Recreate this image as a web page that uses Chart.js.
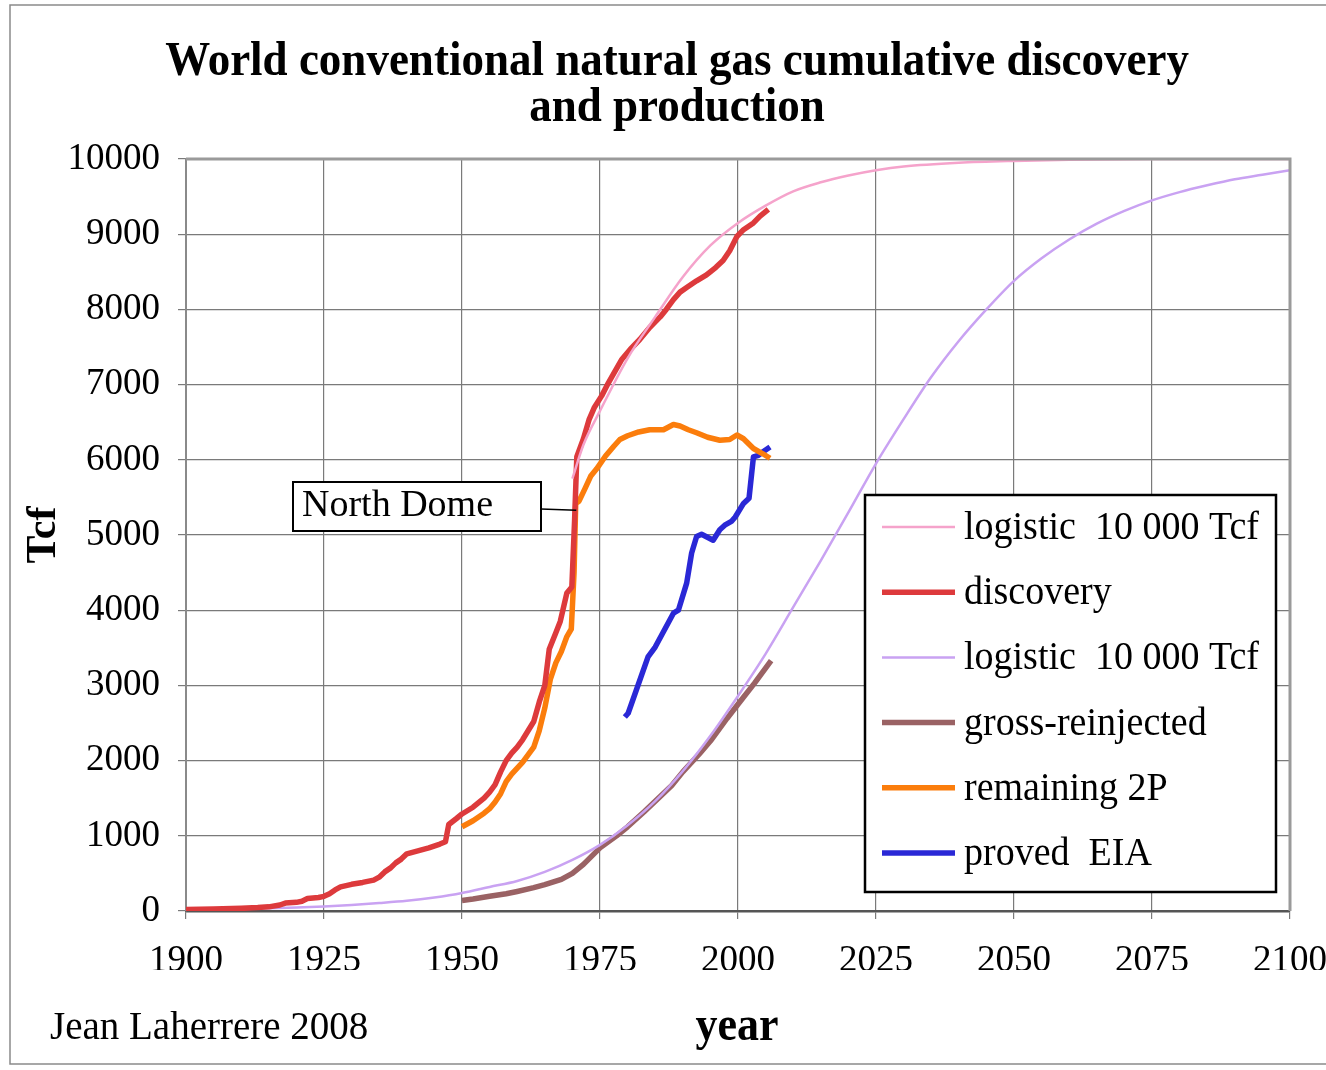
<!DOCTYPE html>
<html>
<head>
<meta charset="utf-8">
<title>World conventional natural gas cumulative discovery and production</title>
<script src="https://cdn.jsdelivr.net/npm/chart.js@4.4.1/dist/chart.umd.min.js"></script>
<style>
    html, body { margin: 0; padding: 0; background: #fff; }
    #wrap { width: 1326px; height: 1070px; }
</style>
</head>
<body>
<div id="wrap"><canvas id="gasChart" width="1326" height="1070"></canvas></div>
<script>
// Axis ticks
const yearTicks = [1900, 1925, 1950, 1975, 2000, 2025, 2050, 2075, 2100];
const tcfTicks = [0, 1000, 2000, 3000, 4000, 5000, 6000, 7000, 8000, 9000, 10000];

// logistic fit of discovery (pink)
const logDiscYears = [1970, 1972, 1975, 1980, 1985, 1990, 1995, 2000, 2005, 2010, 2015, 2020, 2025, 2030, 2040, 2050, 2060, 2075, 2100];
const logDiscTcf   = [5750, 6200, 6650, 7350, 7900, 8430, 8850, 9150, 9380, 9570, 9690, 9780, 9850, 9900, 9950, 9975, 9990, 10000, 10000];

// cumulative discovery (red)
const discYears = [1900, 1905, 1910, 1913, 1915, 1917, 1918, 1920, 1921, 1922, 1924, 1925, 1926, 1927, 1928, 1930,
    1932, 1934, 1935, 1936, 1937, 1938, 1939, 1940, 1942, 1944, 1946, 1947, 1947.6, 1949, 1950, 1952, 1954, 1955,
    1956, 1957, 1958, 1959, 1960, 1961, 1962, 1963, 1964, 1965, 1965.8, 1967, 1967.8, 1969, 1969.9, 1970.4, 1970.8,
    1972, 1973, 1974, 1975.3, 1976.5, 1977.5, 1978.9, 1980.5, 1982.2, 1984, 1985.9, 1987, 1988.3, 1989.5, 1990.7,
    1992.5, 1994.3, 1996, 1997.3, 1998.5, 1999.8, 2001, 2002.8, 2004, 2005.5];
const discTcf = [20, 25, 35, 45, 55, 80, 105, 115, 130, 165, 180, 195, 230, 280, 320, 355,
    380, 410, 450, 520, 570, 640, 690, 760, 800, 840, 890, 920, 1150, 1230, 1290, 1380, 1500, 1580,
    1680, 1850, 2000, 2100, 2180, 2280, 2400, 2520, 2780, 3000, 3480, 3700, 3850, 4230, 4310, 5200, 6040,
    6280, 6530, 6700, 6850, 7020, 7150, 7330, 7470, 7600, 7760, 7900, 8000, 8130, 8230, 8290,
    8380, 8460, 8560, 8650, 8780, 8970, 9060, 9150, 9240, 9330];

// logistic fit of production (lavender)
const logProdYears = [1900, 1905, 1910, 1915, 1920, 1925, 1930, 1935, 1940, 1945, 1950, 1955, 1960, 1965, 1970,
    1975, 1980, 1985, 1990, 1995, 2000, 2005, 2010, 2015, 2020, 2025, 2030, 2035, 2040, 2045, 2050, 2055, 2060,
    2065, 2070, 2075, 2080, 2085, 2090, 2095, 2100];
const logProdTcf = [15, 20, 28, 35, 45, 60, 80, 105, 135, 180, 240, 320, 400, 520, 680,
    880, 1140, 1460, 1860, 2330, 2860, 3420, 4040, 4660, 5300, 5950, 6540, 7100, 7580, 8000, 8380, 8680, 8930,
    9140, 9310, 9450, 9560, 9650, 9730, 9790, 9850];

// cumulative production gross minus reinjected (brown)
const grossYears = [1950, 1952, 1955, 1958, 1960, 1963, 1965, 1968, 1970, 1972, 1975, 1978, 1980, 1983, 1985,
    1988, 1990, 1993, 1995, 1998, 2000, 2003, 2006];
const grossTcf = [140, 160, 195, 230, 260, 310, 350, 420, 500, 620, 840, 1000, 1120, 1320, 1460,
    1670, 1850, 2090, 2260, 2560, 2750, 3030, 3330];

// remaining 2P reserves (orange)
const remainYears = [1950, 1952, 1954, 1955, 1956, 1957, 1958, 1959, 1960, 1961, 1962, 1963, 1964, 1965, 1966,
    1967, 1968, 1969, 1969.8, 1970.3, 1970.6, 1971.2, 1972.3, 1973.3, 1974.4, 1976, 1977.5, 1978.6, 1980, 1982,
    1984, 1986.5, 1988.3, 1989.5, 1991, 1992.5, 1994.5, 1996.7, 1998.5, 1999.8, 2001, 2002.8, 2004.5, 2005.8];
const remainTcf = [1120, 1200, 1300, 1360, 1450, 1560, 1720, 1820, 1900, 1980, 2080, 2180, 2400, 2700, 3080,
    3300, 3450, 3650, 3750, 4500, 5420, 5450, 5620, 5780, 5880, 6050, 6180, 6270, 6320, 6370,
    6400, 6400, 6470, 6450, 6400, 6360, 6300, 6260, 6270, 6330, 6280, 6150, 6080, 6020];

// proved reserves EIA (blue)
const provedYears = [1979.5, 1980.1, 1983.7, 1985, 1988.3, 1989.2, 1990.7, 1991.6, 1992.5, 1993.4, 1995.5, 1996.7,
    1997.6, 1998.8, 1999.5, 2001, 2002, 2002.8, 2003.7, 2004.6, 2005.8];
const provedTcf = [2580, 2630, 3380, 3510, 3960, 4000, 4360, 4760, 4980, 5010, 4930, 5070,
    5130, 5180, 5240, 5420, 5490, 6040, 6060, 6110, 6170];

// annotation anchor on the discovery jump
const northDomeYear = 1970.7;
const northDomeTcf = 5330;

const serif = '"Liberation Serif", "Times New Roman", serif';

function pairs(xs, ys) {
    return xs.map((x, i) => ({ x: x, y: ys[i] }));
}

function series(label, xs, ys, color, width, smooth) {
    return {
        label: label,
        data: pairs(xs, ys),
        borderColor: color,
        backgroundColor: color,
        borderWidth: width,
        pointRadius: 0,
        fill: false,
        tension: smooth ? 0.4 : 0,
        cubicInterpolationMode: smooth ? 'monotone' : 'default',
        borderCapStyle: 'butt',
        borderJoinStyle: 'round'
    };
}

// draw a text line with a slight vertical stretch like the original
function stretchText(ctx, text, x, y, font, align, sy) {
    ctx.save();
    ctx.font = font;
    ctx.textAlign = align;
    ctx.textBaseline = 'alphabetic';
    ctx.translate(x, y);
    ctx.scale(1, sy);
    ctx.fillText(text, 0, 0);
    ctx.restore();
}

const decorations = {
    id: 'decorations',
    beforeDraw(chart) {
        const ctx = chart.ctx;
        ctx.save();
        ctx.fillStyle = '#ffffff';
        ctx.fillRect(0, 0, chart.width, chart.height);
        // outer frame
        ctx.strokeStyle = '#8a8a8a';
        ctx.lineWidth = 1.5;
        ctx.beginPath();
        ctx.moveTo(1326, 5);
        ctx.lineTo(10, 5);
        ctx.lineTo(10, 1064);
        ctx.lineTo(1326, 1064);
        ctx.stroke();
        ctx.restore();
    },
    afterDraw(chart) {
        const ctx = chart.ctx;
        const area = chart.chartArea;
        const xs = chart.scales.x;
        const ys = chart.scales.y;
        ctx.save();
        ctx.fillStyle = '#000';

        // title
        stretchText(ctx, 'World conventional natural gas cumulative discovery', 677, 75, 'bold 45px ' + serif, 'center', 1.1);
        stretchText(ctx, 'and production', 677, 121, 'bold 45px ' + serif, 'center', 1.1);

        // axis titles
        stretchText(ctx, 'year', 737, 1040, 'bold 44px ' + serif, 'center', 1.08);
        stretchText(ctx, 'Jean Laherrere 2008', 50, 1039, '39px ' + serif, 'left', 1.0);
        ctx.save();
        ctx.translate(55, 535);
        ctx.rotate(-Math.PI / 2);
        ctx.font = 'bold 42px ' + serif;
        ctx.textAlign = 'center';
        ctx.fillText('Tcf', 0, 0);
        ctx.restore();

        // North Dome callout
        const ax = xs.getPixelForValue(northDomeYear);
        const ay = ys.getPixelForValue(northDomeTcf);
        ctx.strokeStyle = '#000';
        ctx.lineWidth = 1.5;
        ctx.beginPath();
        ctx.moveTo(541, 509);
        ctx.lineTo(ax, ay);
        ctx.stroke();
        ctx.fillStyle = '#fff';
        ctx.fillRect(293, 482, 248, 49);
        ctx.lineWidth = 2;
        ctx.strokeRect(293, 482, 248, 49);
        ctx.fillStyle = '#000';
        stretchText(ctx, 'North Dome', 302, 516, '38px ' + serif, 'left', 1.0);

        // legend box
        const lx = 865, ly = 495, lw = 411, lh = 397;
        ctx.fillStyle = '#fff';
        ctx.fillRect(lx, ly, lw, lh);
        ctx.strokeStyle = '#000';
        ctx.lineWidth = 2.5;
        ctx.strokeRect(lx, ly, lw, lh);
        chart.data.datasets.forEach((ds, i) => {
            const cy = 527 + i * 65.2;
            ctx.strokeStyle = ds.borderColor;
            ctx.lineWidth = ds.borderWidth;
            ctx.beginPath();
            ctx.moveTo(882, cy);
            ctx.lineTo(955, cy);
            ctx.stroke();
            ctx.fillStyle = '#000';
            stretchText(ctx, ds.label, 964, cy + 12, '38px ' + serif, 'left', 1.03);
        });

        // plot frame (top/right in grey)
        ctx.strokeStyle = '#9a9a9a';
        ctx.lineWidth = 3;
        ctx.beginPath();
        ctx.moveTo(area.left, area.top);
        ctx.lineTo(area.right, area.top);
        ctx.lineTo(area.right, area.bottom);
        ctx.stroke();
        ctx.restore();
    }
};

const ctx = document.getElementById('gasChart');

new Chart(ctx, {
    type: 'line',
    data: {
        datasets: [
            series('logistic  10 000 Tcf', logDiscYears, logDiscTcf, '#f5a3cb', 2.5, true),
            series('discovery', discYears, discTcf, '#dd3a3c', 5.5, false),
            series('logistic  10 000 Tcf', logProdYears, logProdTcf, '#c9a2f2', 2.5, true),
            series('gross-reinjected', grossYears, grossTcf, '#9a6264', 5.5, false),
            series('remaining 2P', remainYears, remainTcf, '#fb7d0c', 5.5, false),
            series('proved  EIA', provedYears, provedTcf, '#2a28d6', 5.5, false)
        ]
    },
    options: {
        responsive: false,
        animation: false,
        events: [],
        layout: {
            padding: { left: 0, top: 159, right: 36, bottom: 100 }
        },
        plugins: {
            legend: { display: false },
            title: { display: false },
            tooltip: { enabled: false }
        },
        scales: {
            x: {
                type: 'linear',
                min: 1900,
                max: 2100,
                afterFit: function(scale) {
                    scale.height = 59;
                    scale.paddingLeft = 0;
                    scale.paddingRight = 0;
                },
                afterBuildTicks: function(scale) {
                    scale.ticks = yearTicks.map(v => ({ value: v }));
                },
                grid: {
                    color: '#7a7a7a',
                    lineWidth: 1.2,
                    tickLength: 8,
                    drawTicks: true
                },
                border: { display: true, color: '#555', width: 2.5 },
                ticks: {
                    color: '#000',
                    padding: 20,
                    maxRotation: 0,
                    autoSkip: false,
                    font: { family: serif, size: 37 },
                    callback: function(value) { return String(value); }
                }
            },
            y: {
                min: 0,
                max: 10000,
                afterFit: function(scale) {
                    scale.width = 186;
                    scale.paddingTop = 0;
                    scale.paddingBottom = 0;
                },
                afterBuildTicks: function(scale) {
                    scale.ticks = tcfTicks.map(v => ({ value: v }));
                },
                grid: {
                    color: '#7a7a7a',
                    lineWidth: 1.2,
                    tickLength: 8
                },
                border: { display: true, color: '#8a8a8a', width: 2 },
                ticks: {
                    color: '#000',
                    padding: 18,
                    autoSkip: false,
                    font: { family: serif, size: 37 },
                    callback: function(value) { return String(value); }
                }
            }
        }
    },
    plugins: [decorations]
});
</script>
</body>
</html>
